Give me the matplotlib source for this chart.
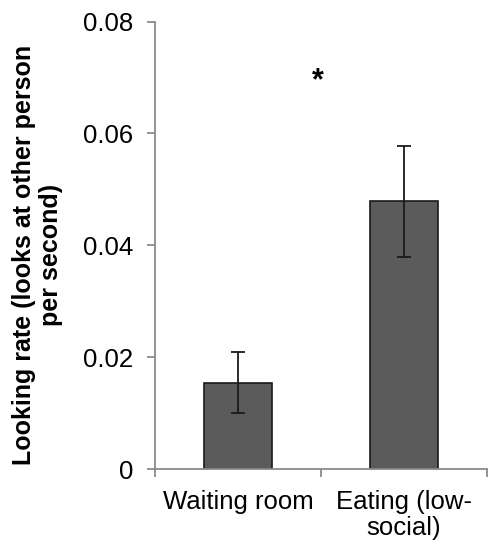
import matplotlib
matplotlib.use("Agg")
import matplotlib.pyplot as plt
import numpy as np

plt.rcParams['font.family'] = ['Liberation Sans', 'DejaVu Sans']

# data
categories = ["Waiting room", "Eating (low-\nsocial)"]
means = [0.0154, 0.0479]
err_low = [0.0100, 0.0379]
err_high = [0.0209, 0.0578]
yticks = [0, 0.02, 0.04, 0.06, 0.08]
ytick_labels = ["0", "0.02", "0.04", "0.06", "0.08"]

fig = plt.figure(figsize=(4.88, 5.41), dpi=100)
ax = fig.add_axes([0.318, 0.133, 0.680, 0.827])

x = np.arange(len(categories))
yerr = [np.array(means) - np.array(err_low), np.array(err_high) - np.array(means)]
ax.bar(x, means, width=0.41, color="#5b5b5b", edgecolor="#1a1a1a", linewidth=1.2, zorder=2)
ax.errorbar(x, means, yerr=yerr, fmt="none", ecolor="#1a1a1a", elinewidth=1.3,
            capsize=4.7, capthick=1.3, zorder=3)

# significance star
ax.text(0.48, 0.0693, "*", ha="center", va="center", fontsize=22, fontweight="bold")

ax.set_xlim(-0.5, 1.5)
ax.set_ylim(0, 0.08)
ax.set_yticks(yticks)
ax.set_yticklabels(ytick_labels, fontsize=18.5)
ax.set_xticks(x)
ax.set_xticklabels(categories, fontsize=18.5, linespacing=1.12)
ax.set_xticks([-0.5, 0.5, 1.5], minor=True)
ax.tick_params(axis="x", which="major", length=0, pad=15)
ax.tick_params(axis="x", which="minor", length=6, width=1.3, color="#8a8a8a")
ax.tick_params(axis="y", length=6, width=1.3, color="#8a8a8a", pad=10)

for side in ["top", "right"]:
    ax.spines[side].set_visible(False)
for side in ["left", "bottom"]:
    ax.spines[side].set_color("#8a8a8a")
    ax.spines[side].set_linewidth(1.3)

ax.set_ylabel("Looking rate (looks at other person\nper second)", fontsize=18,
              fontweight="bold", linespacing=1.15)
ax.yaxis.set_label_coords(-0.278, 0.478)

fig.savefig("out.png", dpi=100)
